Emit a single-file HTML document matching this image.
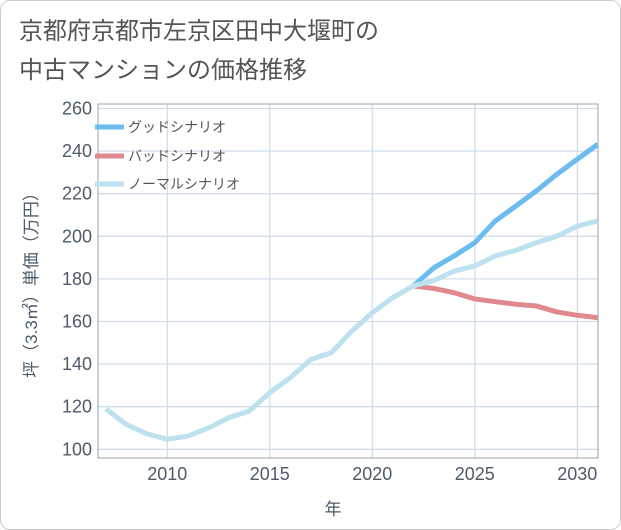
<!DOCTYPE html>
<html><head><meta charset="utf-8"><style>
body{margin:0;background:#fff;}
#wrap{position:relative;width:619px;height:528px;border:1px solid #ccc;border-radius:10px;overflow:hidden;background:#fff;font-family:"Liberation Sans","Noto Sans CJK JP",sans-serif;}
#title{position:absolute;left:18px;top:11px;font-size:24px;line-height:39px;color:#555;}
svg{position:absolute;left:0;top:0;}
</style></head><body>
<div id="wrap">
<div id="title">京都府京都市左京区田中大堰町の<br>中古マンションの価格推移</div>
<svg id="chart" width="621" height="530"></svg>
</div>
<script>
const years=[2007,2008,2009,2010,2011,2012,2013,2014,2015,2016,2017,2018,2019,2020,2021,2022,2023,2024,2025,2026,2027,2028,2029,2030,2031];
const normal=[119,111.7,107.3,104.7,106.2,110,114.8,118,126.6,133.6,142.2,145.3,155.5,164.1,171.2,176.7,179.2,183.7,186.1,190.8,193.4,197,200.1,204.8,207.2];
const futYears=[2022,2023,2024,2025,2026,2027,2028,2029,2030,2031];
const good=[176.7,185.2,190.8,197,207.2,214.2,221.3,229.1,236.2,243.2];
const bad=[176.7,175.5,173.5,170.6,169.3,168.1,167.3,164.5,162.9,161.8];
const xTicks=[2010,2015,2020,2025,2030];
const yTicks=[100,120,140,160,180,200,220,240,260];
const NS="http://www.w3.org/2000/svg";
const svg=document.getElementById('chart');
const L=97,R=597,T=103,B=457;
const x=v=>166.3+(v-2010)*20.5;
const y=v=>448.3-(v-100)*2.13;
function mk(t,a){const e=document.createElementNS(NS,t);for(const k in a)e.setAttribute(k,a[k]);svg.appendChild(e);return e;}
const clip=mk('clipPath',{id:'cp'});
const cr=document.createElementNS(NS,'rect');cr.setAttribute('x',L);cr.setAttribute('y',T);cr.setAttribute('width',R-L);cr.setAttribute('height',B-T);clip.appendChild(cr);
yTicks.forEach(v=>{
 const g=mk('line',{x1:L,x2:R,y1:y(v),y2:y(v),stroke:'#d3dde8','stroke-width':1.3});
 
 
 const t=mk('text',{x:L-6,y:y(v)+6,'text-anchor':'end','font-size':18,fill:'#4d5b6a'});
 t.textContent=v;
 
 
});
xTicks.forEach(v=>{
 const g=mk('line',{x1:x(v),x2:x(v),y1:T,y2:B,stroke:'#d3dde8','stroke-width':1.3});
 
 
 const t=mk('text',{x:x(v),y:B+22,'text-anchor':'middle','font-size':18,fill:'#4d5b6a'});
 t.textContent=v;
 
 
});
const fr=mk('rect',{x:L,y:T,width:R-L,height:B-T,fill:'none',stroke:'#9aa5b0','stroke-width':1});


function line(xs,vs,c,name){
 const p=mk('polyline',{points:xs.map((a,i)=>x(a)+','+y(vs[i])).join(' '),fill:'none',stroke:c,'stroke-width':5,'stroke-linejoin':'round','clip-path':'url(#cp)'});
 
 
}
line(futYears,bad,'#e08a90','bad-scenario-line');
line(futYears,good,'#6cbcf0','good-scenario-line');
line(years,normal,'#bde1ee','normal-scenario-line');
const leg=[['グッドシナリオ','#6cbcf0',126],['バッドシナリオ','#e08a90',155],['ノーマルシナリオ','#bde1ee',183]];
leg.forEach(l=>{
 const s=mk('line',{x1:94,x2:123,y1:l[2],y2:l[2],stroke:l[1],'stroke-width':5});
 
 
 const t=mk('text',{x:127,y:l[2]+5,'font-size':14,fill:'#555'});
 t.textContent=l[0];
 
 
});
const yt=mk('text',{x:0,y:0,transform:'translate(36,280) rotate(-90)','text-anchor':'middle','font-size':17,fill:'#4d5b6a'});
yt.textContent='坪（3.3㎡）単価（万円）';


const xt=mk('text',{x:332,y:514,'text-anchor':'middle','font-size':17,fill:'#4d5b6a'});
xt.textContent='年';


</script>
</body></html>
